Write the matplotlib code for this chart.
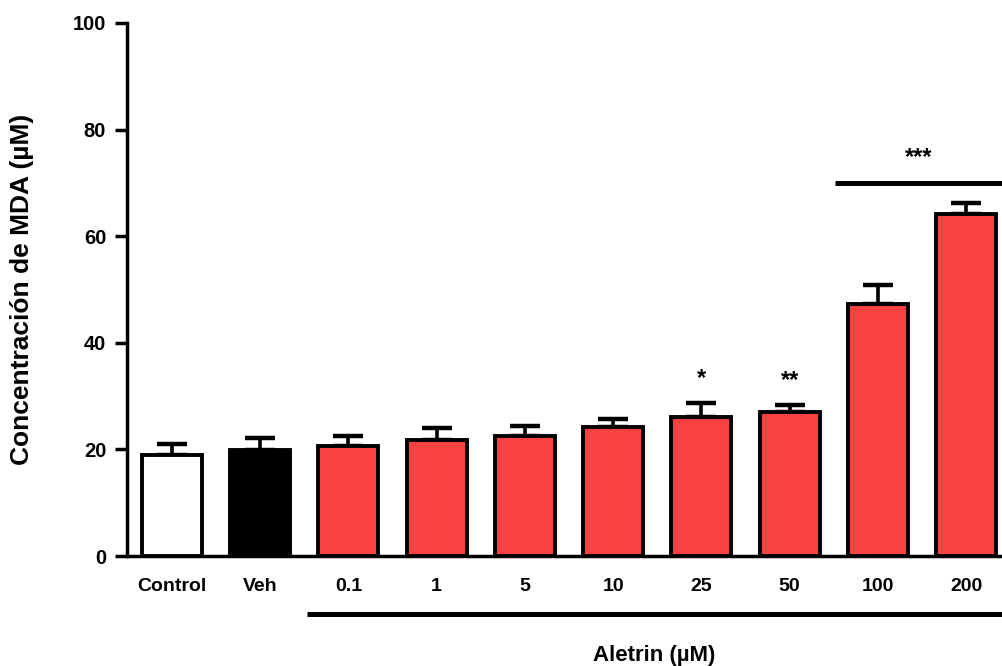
import matplotlib
matplotlib.use("Agg")
import matplotlib.pyplot as plt

# data
grupos = ["Control", "Veh", "0.1", "1", "5", "10", "25", "50", "100", "200"]
mda = [18.9, 19.9, 20.6, 21.8, 22.5, 24.3, 26.1, 27.1, 47.3, 64.1]
sem = [2.1, 2.2, 1.9, 2.2, 1.9, 1.4, 2.7, 1.2, 3.6, 2.2]
colores = ["white", "black"] + ["#F84242"] * 8
marcas = {6: "*", 7: "**"}

plt.rcParams["font.family"] = ["Liberation Sans", "DejaVu Sans"]
plt.rcParams["font.weight"] = "bold"
plt.rcParams["axes.labelweight"] = "bold"

fig = plt.figure(figsize=(10.03, 6.66), dpi=100)
ax = fig.add_axes([0.1266, 0.165, 0.870, 0.8005])

x = list(range(len(grupos)))
ax.bar(x, mda, width=0.68, color=colores, edgecolor="black", linewidth=2.8, zorder=3)
ax.errorbar(x, mda, yerr=[[0] * len(sem), sem], fmt="none", ecolor="black",
            elinewidth=2.6, capsize=10.5, capthick=3.2, zorder=2)

for i, m in marcas.items():
    ax.text(i, mda[i] + sem[i] + 2.4, m, ha="center", va="bottom", fontsize=17)

# barra de significancia 100-200
ax.plot([7.52, 9.41], [70, 70], color="black", lw=3.6, clip_on=False, solid_capstyle="butt")
ax.text(8.46, 72.6, "***", ha="center", va="bottom", fontsize=17)

# linea de Aletrin
ax.plot([1.53, 9.41], [-10.9, -10.9], color="black", lw=3.6, clip_on=False, solid_capstyle="butt")
ax.text(5.47, -18.6, "Aletrin (µM)", ha="center", va="center", fontsize=16)

ax.set_xlim(-0.51, 9.38)
ax.set_ylim(0, 100)
ax.set_yticks([0, 20, 40, 60, 80, 100])
ax.set_xticks(x)
ax.set_xticklabels(grupos, fontsize=14)
ax.tick_params(axis="x", length=0, pad=16)
ax.tick_params(axis="y", length=9, width=2.5, labelsize=14.5, pad=6)
ax.set_ylabel("Concentración de MDA (µM)", fontsize=19, labelpad=28)

for s in ["top", "right"]:
    ax.spines[s].set_visible(False)
for s in ["left", "bottom"]:
    ax.spines[s].set_linewidth(2.5)

fig.savefig("out.png", dpi=100)
